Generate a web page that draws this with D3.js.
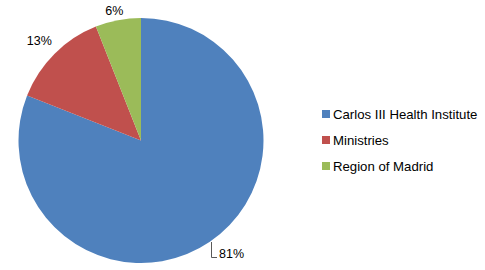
<!DOCTYPE html>
<html><head><meta charset="utf-8">
<script src="https://cdn.jsdelivr.net/npm/d3@7"></script>
<style>body{margin:0;background:#fff}svg{display:block}</style>
</head><body>
<script>
const categories = ["Carlos III Health Institute", "Ministries", "Region of Madrid"];
const values = [81, 13, 6];
const labels = ["81%", "13%", "6%"];
const colors = ["#4F81BD", "#C0504D", "#9BBB59"];

const W = 485, H = 270;
const svg = d3.select("body").append("svg").attr("width", W).attr("height", H);
const cx = 141, cy = 140.5, r = 122.5;
const pie = d3.pie().sort(null).value(d => d)(values);
const arc = d3.arc().innerRadius(0).outerRadius(r);
const g = svg.append("g").attr("transform", `translate(${cx},${cy})`);
g.selectAll("path").data(pie).join("path")
  .attr("d", arc).attr("fill", (d, i) => colors[i]);

const font = "Liberation Sans, Arial, sans-serif";
const fs = 12.5;
const labelR = [0, 141, 132];
pie.forEach((d, i) => {
  if (i === 0) {
    const lx = 70, ly0 = 101.5, ly1 = 116.5;
    g.append("path").attr("d", `M${lx + 0.5},${ly0}V${ly1 + 0.5}H${lx + 6}`)
      .attr("fill", "none").attr("stroke", "#595959").attr("stroke-width", 1);
    g.append("text").attr("x", lx + 8).attr("y", ly1 + 0.5)
      .attr("font-family", font).attr("font-size", fs).attr("fill", "#000").text(labels[i]);
  } else {
    const la = d3.arc().innerRadius(labelR[i]).outerRadius(labelR[i]);
    const [x, y] = la.centroid(d);
    g.append("text").attr("x", x - 2).attr("y", y).attr("text-anchor", "middle")
      .attr("dominant-baseline", "central")
      .attr("font-family", font).attr("font-size", fs).attr("fill", "#000").text(labels[i]);
  }
});

const leg = svg.append("g").attr("transform", "translate(322,110)");
categories.forEach((c, i) => {
  const row = leg.append("g").attr("transform", `translate(0,${i * 26})`);
  row.append("rect").attr("width", 8).attr("height", 8).attr("fill", colors[i]);
  row.append("text").attr("x", 11).attr("y", 8.5).attr("font-family", font)
    .attr("font-size", 13.2).attr("fill", "#000").text(c);
});
</script>
</body></html>
